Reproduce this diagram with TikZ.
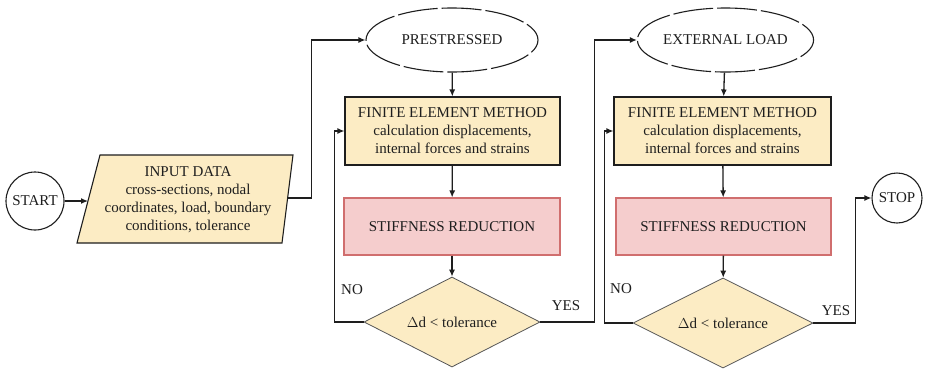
\documentclass[tikz,border=0pt]{standalone}
\usepackage{fontspec}
\setmainfont{Liberation Serif}
\usetikzlibrary{shapes.geometric,arrows.meta}
\definecolor{beige}{RGB}{252,236,196}
\definecolor{pinkfill}{RGB}{245,205,205}
\definecolor{pinkdraw}{RGB}{208,110,110}
\definecolor{ink}{RGB}{30,30,30}
\tikzset{
  txt/.style={font=\fontsize{15}{18}\selectfont, text=ink},
  femstyle/.style={txt, draw=ink, line width=1.1pt, fill=beige, align=center, minimum height=68pt, inner sep=0pt},
  stfstyle/.style={txt, draw=pinkdraw, line width=1.1pt, fill=pinkfill, minimum height=57pt, inner sep=0pt},
  decstyle/.style={txt, diamond, draw=ink!75, line width=0.8pt, fill=beige, inner sep=0pt, aspect=2, minimum height=90pt},
  ovalstyle/.style={txt, ellipse, draw=ink, line width=1.1pt, dash pattern=on 40pt off 4pt, dash phase=20pt, minimum width=172pt, minimum height=64pt, inner sep=0pt},
  termstyle/.style={txt, circle, draw=ink, line width=1.1pt, inner sep=0pt},
  arr/.style={draw=ink, line width=1.3pt, -{Latex[length=7pt,width=6pt]}},
  lbl/.style={txt}
}
\begin{document}
\begin{tikzpicture}[x=1pt,y=-1pt]
\useasboundingbox[fill=white] (0,0) rectangle (926,368);
% terminals
\node[termstyle, minimum size=58pt] (start) at (35,201) {START};
\node[termstyle, minimum size=50pt] (stop) at (897,198) {STOP};
% input data parallelogram
\coordinate (pTL) at (100,155);
\coordinate (pTR) at (293,155);
\coordinate (pBR) at (282,243);
\coordinate (pBL) at (77,243);
\draw[line width=1.1pt, draw=ink, fill=beige] (pTL) -- (pTR) -- (pBR) -- (pBL) -- cycle;
\node[txt, align=center] (input) at (188,200) {INPUT DATA\\cross-sections, nodal\\coordinates, load, boundary\\conditions, tolerance};
\coordinate (inL) at (88,201);
\coordinate (inR) at (287.7,198);
% column 1
\node[ovalstyle] (pre) at (452,40) {PRESTRESSED};
\node[femstyle, minimum width=215pt] (fem1) at (452.5,131) {FINITE ELEMENT METHOD\\calculation displacements,\\internal forces and strains};
\node[stfstyle, minimum width=216pt] (stf1) at (452,226.5) {STIFFNESS REDUCTION};
\node[decstyle, minimum width=176pt] (dia1) at (452,322) {$\Delta$d < tolerance};
% column 2
\node[ovalstyle, minimum width=173pt] (ext) at (725.5,40) {EXTERNAL LOAD};
\node[femstyle, minimum width=217pt] (fem2) at (722.5,131) {FINITE ELEMENT METHOD\\calculation displacements,\\internal forces and strains};
\node[stfstyle, minimum width=215pt] (stf2) at (723.5,226.5) {STIFFNESS REDUCTION};
\node[decstyle, minimum width=180pt] (dia2) at (723,323) {$\Delta$d < tolerance};
% connectors
\draw[arr] (start) -- (inL);
\draw[arr] (inR) -- ++(24,0) |- (pre.west);
\draw[arr] (pre) -- (fem1);
\draw[arr] (fem1) -- (stf1);
\draw[arr] (stf1) -- (dia1);
\draw[arr] (dia1.west) -- ++(-29,0) |- (fem1.west);
\draw[arr] (dia1.east) -- ++(54,0) |- (ext.west);
\draw[arr] (ext) -- (fem2);
\draw[arr] (fem2) -- (stf2);
\draw[arr] (stf2) -- (dia2);
\draw[arr] (dia2.west) -- ++(-28,0) |- (fem2.west);
\draw[arr] (dia2.east) -- ++(42,0) |- (stop.west);
% labels
\node[lbl] (no1) at (352,290) {NO};
\node[lbl] (yes1) at (566,306) {YES};
\node[lbl] (no2) at (621,289) {NO};
\node[lbl] (yes2) at (836,311) {YES};
\end{tikzpicture}
\end{document}
